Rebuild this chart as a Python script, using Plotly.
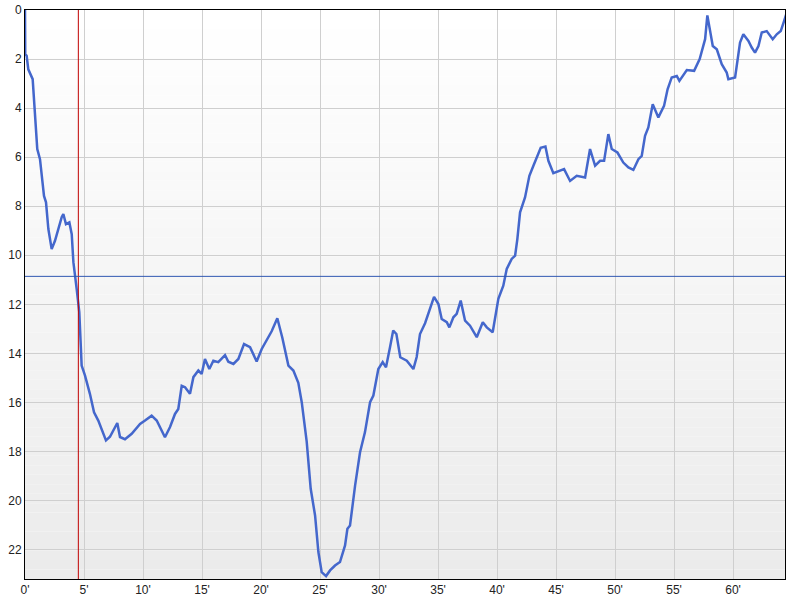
import plotly.graph_objects as go

minutes = [0, 0.02, 0.14, 0.28, 0.65, 0.85, 1.04, 1.27, 1.61, 1.78, 1.98, 2.26, 2.54, 3.11, 3.25, 3.47, 3.76, 3.96,
           4.1, 4.38, 4.6, 4.8, 5.08, 5.5, 5.85, 6.21, 6.5, 6.86, 7.2, 7.48, 7.82, 8.05, 8.47, 9.04, 9.75, 10.17,
           10.73, 11.16, 11.58, 11.86, 12.29, 12.71, 12.99, 13.28, 13.56, 13.98, 14.27, 14.69, 14.97, 15.25, 15.62,
           15.96, 16.38, 16.95, 17.23, 17.66, 18.08, 18.56, 19.07, 19.63, 20.06, 20.62, 20.9, 21.38, 21.8, 22.32,
           22.74, 23.16, 23.45, 23.87, 24.21, 24.58, 24.86, 25.14, 25.51, 25.85, 26.27, 26.69, 27.12, 27.32, 27.54,
           27.97, 28.39, 28.81, 29.24, 29.52, 29.94, 30.31, 30.59, 30.93, 31.2, 31.47, 31.8, 32.35, 32.91, 33.19,
           33.47, 33.9, 34.32, 34.66, 35.03, 35.31, 35.74, 35.96, 36.3, 36.58, 36.92, 37.29, 37.71, 38.28, 38.79,
           39.13, 39.63, 40.11, 40.53, 40.82, 41.24, 41.53, 41.72, 41.95, 42.37, 42.74, 43.08, 43.36, 43.7, 44.1,
           44.35, 44.77, 45.2, 45.68, 46.19, 46.75, 47.46, 47.88, 48.31, 48.73, 49.07, 49.43, 49.72, 50.2, 50.7,
           51.13, 51.55, 51.98, 52.26, 52.54, 52.82, 53.19, 53.67, 54.15, 54.45, 54.8, 55.23, 55.45, 56.08, 56.7,
           57.17, 57.63, 57.82, 58.05, 58.28, 58.62, 59.04, 59.46, 59.6, 60.17, 60.59, 60.87, 61.3, 61.58, 61.86,
           62.15, 62.43, 62.85, 63.36, 63.7, 64.04, 64.32, 64.5]
values = [0, 1.8, 1.87, 2.42, 2.82, 4.17, 5.67, 6.08, 7.58, 7.84, 8.93, 9.75, 9.41, 8.45, 8.32, 8.73, 8.66, 9.14,
          10.28, 11.38, 12.32, 14.5, 14.9, 15.65, 16.4, 16.74, 17.08, 17.55, 17.4, 17.15, 16.84, 17.41, 17.5, 17.28,
          16.88, 16.74, 16.54, 16.74, 17.15, 17.42, 17.0, 16.47, 16.27, 15.32, 15.38, 15.65, 14.97, 14.7, 14.84,
          14.23, 14.64, 14.3, 14.36, 14.07, 14.34, 14.43, 14.23, 13.62, 13.75, 14.33, 13.82, 13.34, 13.1, 12.57,
          13.35, 14.5, 14.7, 15.2, 15.99, 17.6, 19.52, 20.61, 22.1, 22.92, 23.08, 22.85, 22.65, 22.51, 21.83, 21.15,
          21.02, 19.39, 18.03, 17.21, 15.99, 15.72, 14.64, 14.36, 14.57, 13.75, 13.07, 13.21, 14.16, 14.3, 14.64,
          14.15, 13.21, 12.77, 12.2, 11.7, 11.99, 12.6, 12.73, 12.94, 12.53, 12.39, 11.85, 12.67, 12.87, 13.34,
          12.73, 12.94, 13.14, 11.78, 11.24, 10.56, 10.15, 10.02, 9.34, 8.25, 7.64, 6.76, 6.35, 6.01, 5.62, 5.57,
          6.15, 6.65, 6.56, 6.49, 6.97, 6.76, 6.83, 5.67, 6.35, 6.15, 6.15, 5.06, 5.67, 5.81, 6.22, 6.42, 6.52,
          6.08, 5.95, 5.13, 4.79, 3.84, 4.38, 3.91, 3.23, 2.75, 2.69, 2.89, 2.45, 2.48, 2.0, 1.19, 0.22, 0.79, 1.47,
          1.6, 2.21, 2.55, 2.82, 2.75, 1.33, 0.99, 1.26, 1.53, 1.74, 1.47, 0.92, 0.86, 1.19, 0.99, 0.86, 0.45, 0.18]

x_ticks = [0, 5, 10, 15, 20, 25, 30, 35, 40, 45, 50, 55, 60]
x_labels = [f"{t}'" for t in x_ticks]
y_ticks = [0, 2, 4, 6, 8, 10, 12, 14, 16, 18, 20, 22]
marker_minute = 4.52
average_value = 10.86
x_max = 64.4
y_max = 23.2

fig = go.Figure()
fig.add_trace(go.Scatter(x=minutes, y=values, mode="lines",
                         line=dict(color="#4467CC", width=2.5), hoverinfo="skip", showlegend=False))

shapes = []
n = 60
for i in range(n):
    t = i / (n - 1)
    c = int(round(255 - (255 - 235) * t))
    shapes.append(dict(type="rect", xref="paper", yref="paper", x0=0, x1=1,
                       y0=1 - (i + 1) / n, y1=1 - i / n, fillcolor=f"rgb({c},{c},{c})",
                       line=dict(width=0), layer="below"))
shapes.append(dict(type="line", xref="x", yref="paper", x0=marker_minute, x1=marker_minute, y0=0, y1=1,
                   line=dict(color="#C00000", width=1), layer="above"))
shapes.append(dict(type="line", xref="paper", yref="y", x0=0, x1=1, y0=average_value, y1=average_value,
                   line=dict(color="#2E55B0", width=1), layer="above"))

fig.update_layout(
    width=800, height=600,
    margin=dict(l=25, r=15, t=10, b=21, autoexpand=False),
    paper_bgcolor="white", plot_bgcolor="white",
    shapes=shapes,
    font=dict(family="Liberation Sans, Arial", size=12, color="#222"),
    xaxis=dict(range=[0, x_max], tickvals=x_ticks, ticktext=x_labels, showgrid=True,
               gridcolor="#CFCFCF", gridwidth=1, zeroline=False, showline=True, linecolor="black",
               linewidth=1, mirror=True, ticks="", ticklen=0, automargin=False),
    yaxis=dict(range=[y_max, 0], tickvals=y_ticks, showgrid=True, gridcolor="#CFCFCF", gridwidth=1,
               zeroline=False, showline=True, linecolor="black", linewidth=1, mirror=True, ticks="",
               ticklen=0, automargin=False),
)

fig.write_html("out.html", config={"displayModeBar": False},
               post_script="document.body.style.margin='0';document.body.style.overflow='hidden';")
